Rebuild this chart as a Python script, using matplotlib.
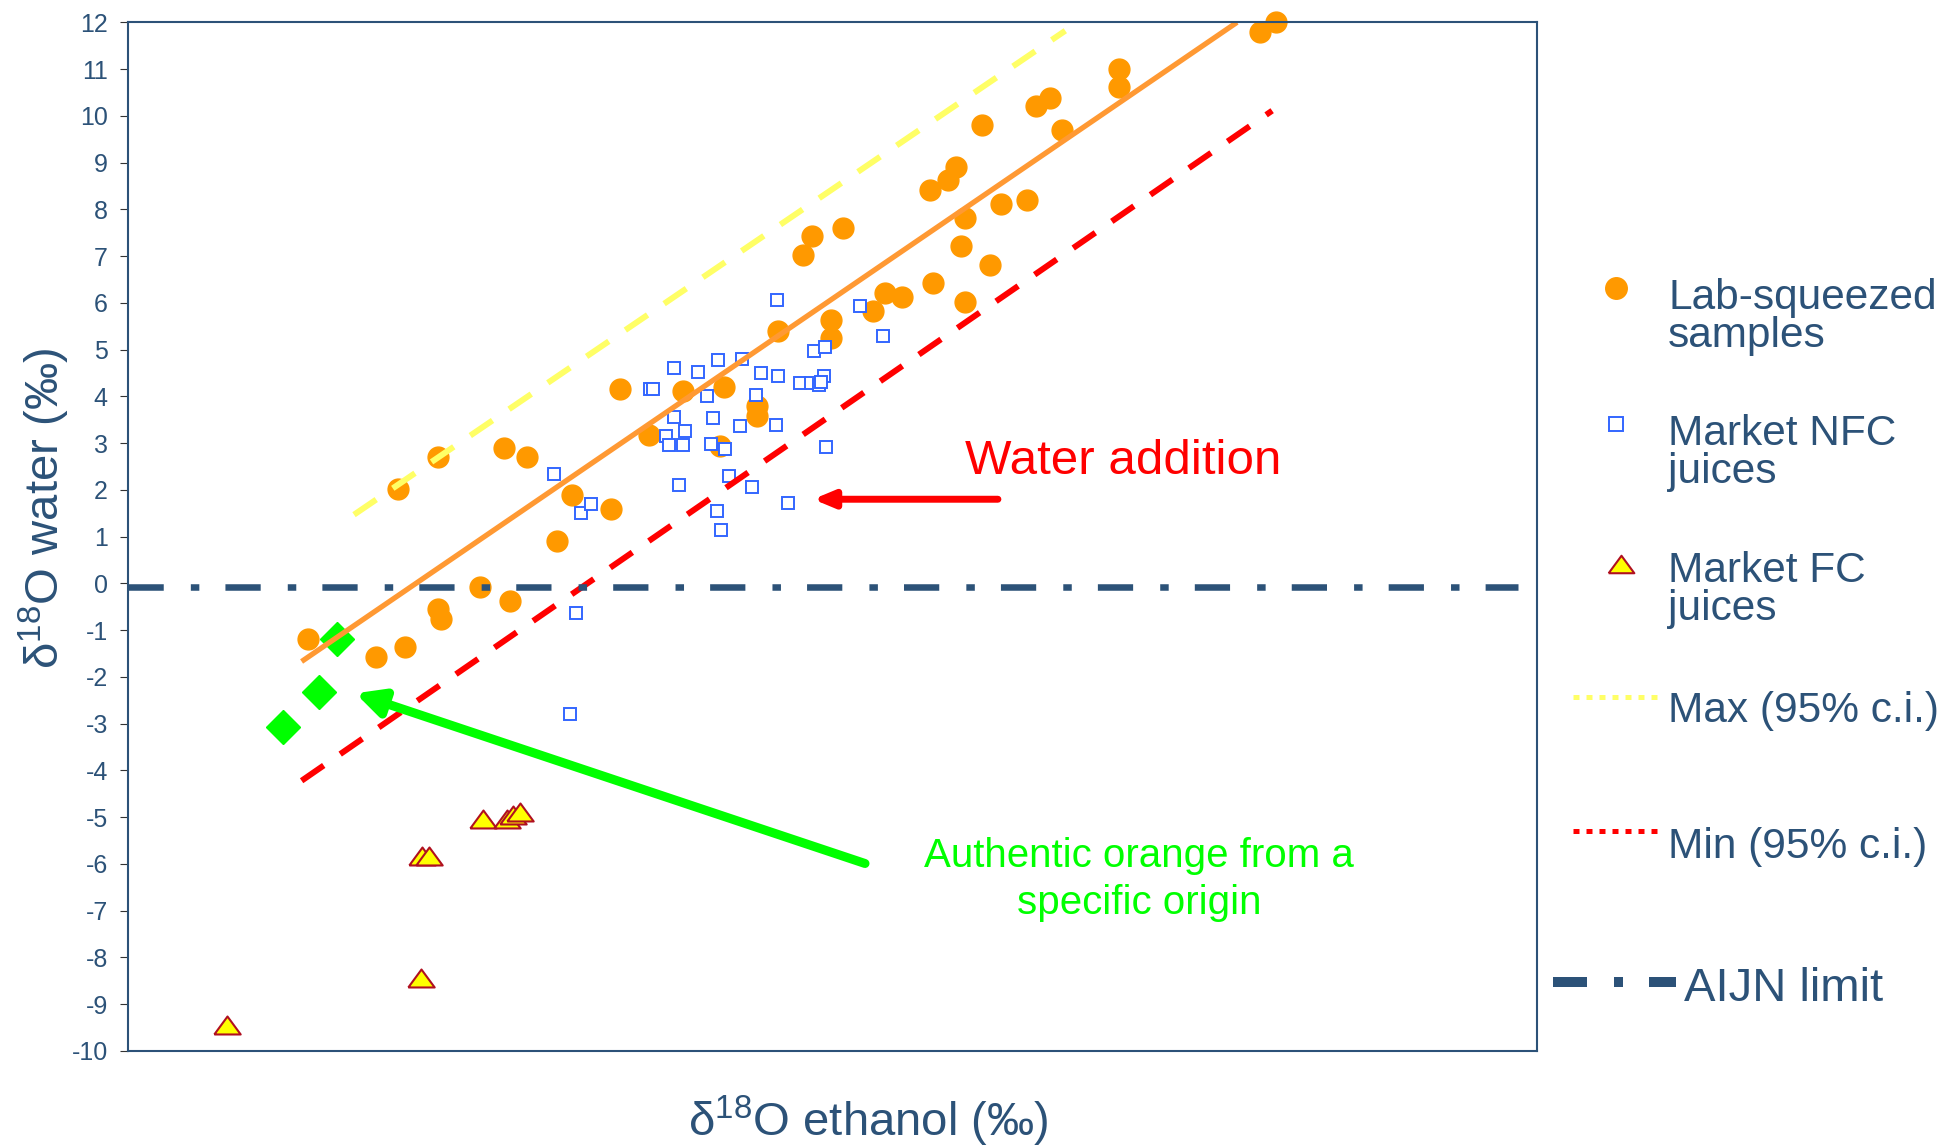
"""d18O water vs d18O ethanol scatter for orange juice authenticity."""

import matplotlib

matplotlib.use("Agg")
import matplotlib.pyplot as plt
from matplotlib.lines import Line2D

plt.rcParams["font.family"] = ["Liberation Sans", "DejaVu Sans"]
plt.rcParams["mathtext.fontset"] = "custom"
plt.rcParams["mathtext.rm"] = "Liberation Sans"
plt.rcParams["axes.unicode_minus"] = False

NAVY = "#2c5278"
ORANGE = "#ff9900"

# x axis has no scale in the source; values are relative units
lab_x = [5.78, 6.63, 8.04, 8.52, 10.52, 9.17, 9.48, 10.33, 11.13, 11.86,
         12.74, 12.65, 13.44, 13.44, 13.90, 14.42, 14.62, 15.29, 15.02, 15.02,
         15.91, 16.18, 16.53, 17.20, 17.14, 17.53, 17.70, 17.80, 17.88, 17.88,
         18.42, 18.25, 18.66, 19.22, 19.40, 19.71, 19.96, 21.17, 21.17, 24.20,
         24.54, 3.85, 5.31, 5.93, 6.63, 6.68, 7.53, 8.16]
lab_y = [2.01, 2.70, 2.90, 2.70, 4.15, 0.90, 1.90, 1.60, 3.17, 4.11,
         4.19, 2.93, 3.80, 3.59, 5.40, 7.03, 7.42, 7.61, 5.63, 5.24,
         5.82, 6.21, 6.12, 6.42, 8.42, 8.62, 8.91, 7.22, 7.81, 6.01,
         6.82, 9.81, 8.11, 8.21, 10.21, 10.39, 9.70, 11.01, 10.61, 11.80,
         12.00, -1.18, -1.57, -1.37, -0.55, -0.77, -0.07, -0.37]

nfc_x = [9.10, 9.67, 9.89, 11.15, 11.22, 11.67, 12.18, 12.60, 13.12, 12.37,
         11.66, 11.49, 11.56, 11.85, 11.91, 12.51, 12.45, 12.75, 11.78, 12.84,
         12.58, 12.67, 13.07, 13.33, 13.52, 13.43, 13.90, 13.85, 13.86, 14.10,
         14.35, 14.59, 14.76, 14.87, 14.80, 14.66, 14.89, 15.64, 16.13, 14.92,
         9.57, 9.44]
nfc_y = [2.33, 1.51, 1.69, 4.16, 4.16, 4.61, 4.53, 4.77, 4.80, 4.00,
         3.56, 3.16, 2.95, 2.95, 3.25, 3.53, 2.98, 2.87, 2.10, 2.29,
         1.55, 1.14, 3.37, 2.07, 4.49, 4.04, 4.43, 3.39, 6.06, 1.73,
         4.28, 4.28, 4.24, 4.43, 4.30, 4.97, 5.06, 5.94, 5.30, 2.92,
         -0.64, -2.79]

fc_x = [2.11, 6.26, 6.28, 6.44, 7.59, 8.09, 8.23, 8.37]
fc_y = [-9.45, -8.43, -5.84, -5.84, -5.04, -5.04, -4.96, -4.88]

origin_x = [4.46, 4.08, 3.32]
origin_y = [-1.18, -2.32, -3.08]

fit_x, fit_y = [3.71, 23.70], [-1.67, 12.00]
max_x, max_y = [4.83, 20.03], [1.47, 11.82]
min_x, min_y = [3.71, 24.45], [-4.22, 10.11]
aijn_x, aijn_y = [0.0, 29.7], [-0.07, -0.07]

y_ticks = list(range(-10, 13))

W, H = 1952, 1145
fig = plt.figure(figsize=(W / 100, H / 100), dpi=100)
ax = fig.add_axes([128 / W, 1 - 1051 / H, (1537 - 128) / W, (1051 - 22.3) / H])


def fx(px):
    return px / W


def fy(py):
    return 1 - py / H


# flattened triangle, closed so the edge goes all the way round
tri = [(-1, -0.68), (1, -0.68), (0, 0.68), (-1, -0.68)]

ax.plot(lab_x, lab_y, "o", ms=15, color=ORANGE, mec=ORANGE, clip_on=False)
ax.plot(nfc_x, nfc_y, "s", ms=8.8, mfc="white", mec="#3366ff", mew=1.4)
ax.plot(fc_x, fc_y, ls="none", marker=tri, ms=19, mfc="#ffff00",
        mec="#b01020", mew=1.5)
ax.plot(origin_x, origin_y, "D", ms=17.5, color="#00ff00", mec="#00ff00")

ax.plot(fit_x, fit_y, color="#ff9933", lw=3.8, solid_capstyle="butt")
ax.plot(max_x, max_y, color="#ffff66", lw=4.3, dashes=(4.5, 3.35))
ax.plot(min_x, min_y, color="#ff0000", lw=4.3, dashes=(4.5, 3.35))
ax.plot(aijn_x, aijn_y, color=NAVY, lw=4.7, dashes=(5.4, 4.15, 1.3, 4.0))

ax.set_xlim(0, 30.11)
ax.set_ylim(-10, 12)
ax.set_xticks([])
ax.set_yticks(y_ticks)
ax.tick_params(axis="y", direction="out", length=5.5, width=0.8,
               color="#333333", labelsize=18, labelcolor=NAVY, pad=9)
for s in ax.spines.values():
    s.set_color(NAVY)
    s.set_linewidth(1.5)

# annotations
ax.annotate("", xy=(14.64, 1.80), xytext=(18.59, 1.80),
            arrowprops=dict(arrowstyle="-|>,head_length=12,head_width=5",
                            mutation_scale=1, color="#ff0000", lw=5,
                            shrinkA=0, shrinkB=0))
ax.text(21.27, 2.33, "Water addition", color="#ff0000", fontsize=35.5,
        ha="center", va="baseline")
ax.annotate("", xy=(4.86, -2.35), xytext=(15.75, -5.99),
            arrowprops=dict(arrowstyle="-|>,head_length=16,head_width=8",
                            mutation_scale=1, color="#00ff00", lw=6.5,
                            shrinkA=0, shrinkB=0))
# va="baseline" on multi-line text pins the last line's baseline
ax.text(21.6, -7.07, "Authentic orange from a\nspecific origin",
        color="#00ff00", fontsize=29, ha="center", va="baseline",
        multialignment="center", linespacing=1.31)

# axis titles
fig.text(fx(868), fy(1136), "δ$^{\\mathregular{18}}$O ethanol (‰)", fontsize=34,
         color=NAVY, ha="center", va="baseline")
fig.text(fx(44), fy(508), "δ$^{\\mathregular{18}}$O water (‰)", fontsize=34,
         color=NAVY, ha="center", va="center", rotation=90)


# hand-placed legend to the right of the plot
def fig_line(xs, ys, **kw):
    fig.add_artist(Line2D([fx(x) for x in xs], [fy(y) for y in ys],
                          transform=fig.transFigure, **kw))


fig_line([1616], [288], ls="none", marker="o", ms=15.5, color=ORANGE)
fig_line([1616], [424], ls="none", marker="s", ms=10, mfc="white",
         mec="#3366ff", mew=1.4)
fig_line([1621], [564], ls="none", marker=tri, ms=18.5, mfc="#ffff00",
         mec="#b01020", mew=1.5)
fig_line([1573, 1658], [697, 697], color="#ffff66", lw=3.6, dashes=(1.2, 1.4))
fig_line([1573, 1658], [831, 831], color="#ff0000", lw=3.6, dashes=(1.2, 1.4))
fig_line([1553, 1676], [982, 982], color=NAVY, lw=7.2,
         dashes=(3.4, 2.7, 0.9, 2.6))

legend_labels = ["Lab-squeezed\nsamples", "Market NFC\njuices",
                 "Market FC\njuices", "Max (95% c.i.)", "Min (95% c.i.)"]
legend_baselines = [347, 483, 620, 722, 858]
for txt, base in zip(legend_labels, legend_baselines):
    fig.text(fx(1668), fy(base), txt, fontsize=30.5, color=NAVY,
             ha="left", va="baseline", linespacing=0.93)
fig.text(fx(1684), fy(1001), "AIJN limit", fontsize=34, color=NAVY,
         ha="left", va="baseline")

fig.savefig("out.png", dpi=100)
